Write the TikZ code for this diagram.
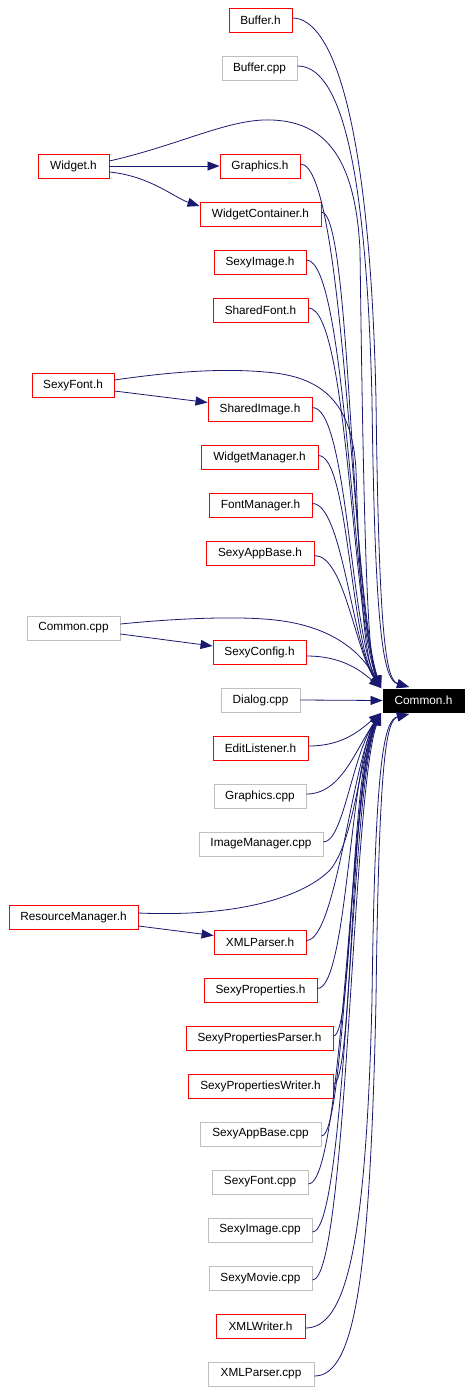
\documentclass[tikz,border=0pt]{standalone}
\usepackage{fontspec}
\setmainfont{Liberation Sans}
\usetikzlibrary{arrows.meta}
\definecolor{edgecol}{HTML}{191970}
\definecolor{grayb}{HTML}{BFBFBF}
\tikzset{
  box/.style={draw, line width=0.9pt, minimum height=24pt, inner sep=0pt, font=\fontsize{11.8}{13}\selectfont, text=black},
  redbox/.style={box, draw=red},
  graybox/.style={box, draw=grayb},
  mainbox/.style={box, draw=black, fill=black, text=white, minimum height=23pt},
  edge/.style={draw=edgecol, line width=0.8pt, -{Triangle[length=12pt,width=9pt]}}
}
\begin{document}
\begin{tikzpicture}[x=1pt,y=-1pt]
\useasboundingbox (0,0) rectangle (471,1394);
% nodes
\node[redbox, minimum width=63] (bufh) at (260.5,20) {Buffer.h};
\node[graybox, minimum width=75] (bufc) at (259.5,68) {Buffer.cpp};
\node[redbox, minimum width=71] (widget) at (73.5,166) {Widget.h};
\node[redbox, minimum width=80] (gfxh) at (260,166) {Graphics.h};
\node[redbox, minimum width=121] (wcont) at (260.5,214) {WidgetContainer.h};
\node[redbox, minimum width=92] (simg) at (260,262) {SexyImage.h};
\node[redbox, minimum width=95] (sfont) at (260.5,310) {SharedFont.h};
\node[redbox, minimum width=82] (sfonth) at (73,385) {SexyFont.h};
\node[redbox, minimum width=104] (shimg) at (260,409.5) {SharedImage.h};
\node[redbox, minimum width=117] (wman) at (259.5,457.5) {WidgetManager.h};
\node[redbox, minimum width=103] (fman) at (260.5,505.5) {FontManager.h};
\node[redbox, minimum width=108] (sabh) at (260,553.5) {SexyAppBase.h};
\node[graybox, minimum width=93] (ccpp) at (73.5,628) {Common.cpp};
\node[redbox, minimum width=93] (sconf) at (259.5,652) {SexyConfig.h};
\node[graybox, minimum width=79] (dialog) at (260.5,700) {Dialog.cpp};
\node[mainbox, minimum width=81] (commonh) at (423.5,700.5) {Common.h};
\node[redbox, minimum width=95] (editl) at (260.5,748) {EditListener.h};
\node[graybox, minimum width=92] (gfxcpp) at (260,796) {Graphics.cpp};
\node[graybox, minimum width=124] (imgman) at (261,844) {ImageManager.cpp};
\node[redbox, minimum width=129] (resman) at (73.5,917) {ResourceManager.h};
\node[redbox, minimum width=92] (xmlph) at (260,942.5) {XMLParser.h};
\node[redbox, minimum width=113] (sprop) at (260.5,990.5) {SexyProperties.h};
\node[redbox, minimum width=147] (spropp) at (259.5,1038) {SexyPropertiesParser.h};
\node[redbox, minimum width=145] (spropw) at (260.5,1086) {SexyPropertiesWriter.h};
\node[graybox, minimum width=121] (sabcpp) at (260.5,1134) {SexyAppBase.cpp};
\node[graybox, minimum width=96] (sfcpp) at (260,1182) {SexyFont.cpp};
\node[graybox, minimum width=104] (sicpp) at (260,1230) {SexyImage.cpp};
\node[graybox, minimum width=103] (smcpp) at (260.5,1278) {SexyMovie.cpp};
\node[redbox, minimum width=89] (xmlw) at (260.5,1326) {XMLWriter.h};
\node[graybox, minimum width=106] (xmlpcpp) at (261,1374) {XMLParser.cpp};
% arrow tips at Common.h
\coordinate (tU) at (381,688);
\coordinate (tUR) at (409,687);
\coordinate (tD) at (381,713);
\coordinate (tDR) at (409,714);
% local edges
\draw[edge] (widget.east) -- (gfxh.west);
\draw[edge] ([yshift=-6pt]widget.east) .. controls (150,176) and (175,198) .. ([yshift=8pt]wcont.west);
\draw[edge] ([yshift=-6pt]sfonth.east) -- ([yshift=7pt]shimg.west);
\draw[edge] ([yshift=-6pt]ccpp.east) -- ([yshift=6pt]sconf.west);
\draw[edge] ([yshift=-9pt]resman.east) -- ([yshift=7pt]xmlph.west);
% upper edges to Common.h
\draw[edge] ([yshift=2pt]bufh.east) .. controls +(40,0) and (370,120) .. (376,400) .. controls (379,640) and (386,680) .. (tUR);
\draw[edge] ([yshift=2pt]bufc.east) .. controls +(40,0) and (366,150) .. (372,400) .. controls (375,640) and (384,680) .. (tUR);
\draw[edge] ([yshift=5pt]widget.east) .. controls (180,145) and (230,118) .. (272,120) .. controls (320,122) and (355,150) .. (360,250) .. controls (364,560) and (368,660) .. (tU);
\draw[edge] ([yshift=2pt]gfxh.east) .. controls +(45,0) and (352,600) .. (tU);
\draw[edge] ([yshift=2pt]wcont.east) .. controls +(30,0) and (350,600) .. (tU);
\draw[edge] ([yshift=2pt]simg.east) .. controls +(40,0) and (352,610) .. (tU);
\draw[edge] ([yshift=2pt]sfont.east) .. controls +(40,0) and (352,620) .. (tU);
\draw[edge] ([yshift=5pt]sfonth.east) .. controls (170,372) and (220,368) .. (265,372) .. controls (320,376) and (352,400) .. (356,470) .. controls (360,600) and (365,660) .. (tU);
\draw[edge] ([yshift=2pt]shimg.east) .. controls +(35,0) and (350,630) .. (tU);
\draw[edge] ([yshift=2pt]wman.east) .. controls +(30,0) and (350,640) .. (tU);
\draw[edge] ([yshift=2pt]fman.east) .. controls +(30,0) and (352,645) .. (tU);
\draw[edge] ([yshift=-2pt]sabh.east) .. controls +(30,0) and (355,650) .. (tU);
\draw[edge] ([yshift=4pt]ccpp.east) .. controls (180,618) and (240,616) .. (275,620) .. controls (330,626) and (360,650) .. (tU);
\draw[edge] ([yshift=-4pt]sconf.east) .. controls +(35,0) and (360,670) .. (tU);
% middle
\draw[edge] (dialog.east) -- (commonh.west);
% lower edges to Common.h
\draw[edge] ([yshift=2pt]editl.east) .. controls +(35,0) and (360,730) .. (tD);
\draw[edge] ([yshift=2pt]gfxcpp.east) .. controls +(35,0) and (355,750) .. (tD);
\draw[edge] ([yshift=2pt]imgman.east) .. controls +(20,0) and (352,755) .. (tD);
\draw[edge] ([yshift=4pt]resman.east) .. controls (230,917) and (300,900) .. (330,870) .. controls (355,840) and (358,760) .. (tD);
\draw[edge] ([yshift=2pt]xmlph.east) .. controls +(30,0) and (352,760) .. (tD);
\draw[edge] ([yshift=2pt]sprop.east) .. controls +(30,0) and (350,760) .. (tD);
\draw[edge] ([yshift=2pt]spropp.east) .. controls +(20,0) and (350,765) .. (tD);
\draw[edge] ([yshift=2pt]spropw.east) .. controls +(20,0) and (350,770) .. (tD);
\draw[edge] ([yshift=-2pt]sabcpp.east) .. controls +(25,0) and (350,775) .. (tD);
\draw[edge] ([yshift=-2pt]sfcpp.east) .. controls +(35,0) and (350,780) .. (tD);
\draw[edge] ([yshift=-2pt]sicpp.east) .. controls +(35,0) and (350,785) .. (tD);
\draw[edge] ([yshift=-2pt]smcpp.east) .. controls +(35,0) and (352,790) .. (tD);
\draw[edge] ([yshift=-2pt]xmlw.east) .. controls +(40,0) and (366,1250) .. (372,1000) .. controls (375,760) and (384,720) .. (tDR);
\draw[edge] ([yshift=-2pt]xmlpcpp.east) .. controls +(40,0) and (370,1280) .. (376,1000) .. controls (379,760) and (386,720) .. (tDR);
\end{tikzpicture}
\end{document}
